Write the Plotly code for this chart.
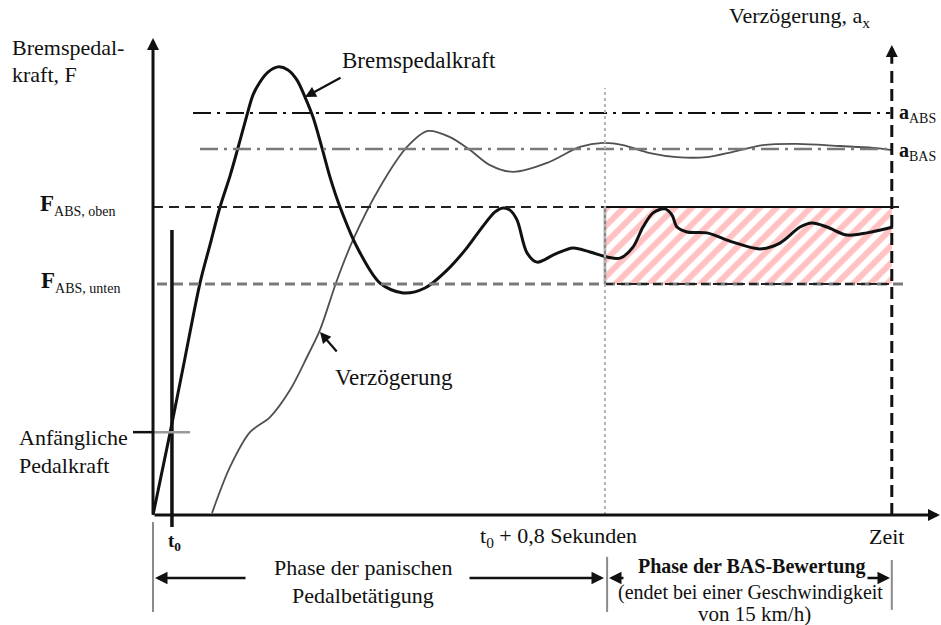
import plotly.graph_objects as go

# Time in seconds from the start of pedal travel; force / deceleration in % of F_ABS,oben
T0 = 0.035            # moment of pedal contact
T_EVAL = T0 + 0.8     # start of BAS evaluation
T_END = 1.365         # vehicle reaches 15 km/h

F_OBEN = 100.0
F_UNTEN = 75.0
A_ABS = 130.5
A_BAS = 118.8
F_INIT = 26.9

# Brake pedal force
force_t = [0.0, 0.0314, 0.0591, 0.0868, 0.1053, 0.1238, 0.1423, 0.1570, 0.1737, 0.1848,
           0.1977, 0.2125, 0.2309, 0.2494, 0.2661, 0.2808, 0.2956, 0.3122, 0.3270, 0.3455,
           0.3769, 0.4194, 0.4619, 0.5025, 0.5432, 0.5765, 0.6042, 0.6319, 0.6467, 0.6596,
           0.6725, 0.6910, 0.7095, 0.7427, 0.7760, 0.8074, 0.8388, 0.8628, 0.8868, 0.9053,
           0.9238, 0.9460, 0.9589, 0.9681, 0.9866, 1.0236, 1.0716, 1.1215, 1.1584, 1.1954,
           1.2176, 1.2453, 1.2822, 1.3192, 1.3672]
force_v = [0.0, 26.6, 51.0, 75.3, 87.7, 100.0, 110.1, 119.2, 129.9, 136.4,
           140.6, 143.8, 145.5, 144.5, 141.2, 135.7, 129.2, 119.2, 109.7, 100.0,
           87.0, 75.3, 72.1, 73.7, 79.5, 86.0, 92.5, 98.4, 99.7, 99.0,
           95.8, 85.1, 82.1, 84.7, 86.7, 85.4, 83.8, 83.4, 87.0, 93.5,
           98.1, 99.4, 97.4, 93.5, 91.9, 91.6, 88.6, 86.4, 88.3, 93.5,
           94.8, 93.5, 90.9, 91.6, 93.5]

# Vehicle deceleration
decel_t = [0.1090, 0.1423, 0.1792, 0.2162, 0.2531, 0.2845, 0.3085, 0.3400, 0.3695, 0.4194,
           0.4693, 0.5081, 0.5487, 0.5857, 0.6226, 0.6651, 0.7280, 0.7889, 0.8314, 0.8684,
           0.9183, 0.9681, 1.0236, 1.0716, 1.1270, 1.1898, 1.2693, 1.3303, 1.3654]
decel_v = [0.6, 15.6, 26.9, 31.8, 40.6, 51.3, 60.1, 76.3, 89.3, 106.5,
           119.5, 124.7, 122.7, 118.5, 113.6, 111.4, 114.3, 119.5, 120.8, 120.1,
           117.5, 116.2, 116.2, 117.9, 120.1, 120.5, 119.8, 119.2, 118.5]

X_RANGE = [-0.2827, 1.4559]
Y_RANGE = [-35.71, 167.21]
Y_TOP = 154.9
X_TIP = 1.454
PHASE_Y = -20.45

SERIF = "Liberation Serif"
INK = "#111111"
GREY = "#7a7a7a"

fig = go.Figure()

# hatched BAS evaluation window
fig.add_trace(go.Scatter(
    x=[T_EVAL, T_END, T_END, T_EVAL, T_EVAL],
    y=[F_UNTEN, F_UNTEN, F_OBEN, F_OBEN, F_UNTEN],
    mode="lines", line=dict(width=0), fill="toself", fillcolor="rgba(0,0,0,0)",
    fillpattern=dict(shape="/", fgcolor="#ff8484", bgcolor="white", size=12, solidity=0.5),
    hoverinfo="skip", showlegend=False))

shapes = []


def hline(y, x0, x1, color, width, dash):
    shapes.append(dict(type="line", xref="x", yref="y", x0=x0, x1=x1, y0=y, y1=y,
                       line=dict(color=color, width=width, dash=dash)))


def vline(x, y0, y1, color, width, dash="solid"):
    shapes.append(dict(type="line", xref="x", yref="y", x0=x, x1=x, y0=y0, y1=y1,
                       line=dict(color=color, width=width, dash=dash)))


# threshold levels
hline(A_ABS, 0.0739, 1.3617, INK, 2, "18px,6px,3px,6px")
hline(A_BAS, 0.0868, 1.3617, GREY, 2.5, "18px,6px,3px,6px")
hline(F_OBEN, 0.0, 1.3894, "#222222", 2, "10px,6px")
hline(F_UNTEN, 0.0074, 1.3894, GREY, 3, "10px,6px")

# window edges
hline(F_OBEN, T_EVAL, T_END, INK, 2, "solid")
hline(F_UNTEN, T_EVAL, T_END, "#222222", 2, "8px,4px")
vline(T_EVAL, F_UNTEN, F_OBEN, "#888888", 2.5)

# markers on the time axis
vline(T_EVAL, 0, 138.6, "#b5b5b5", 2, "dot")
vline(T_END, 0, 146.0, INK, 3, "12px,6px")
vline(T0, -3.9, 92.5, INK, 3.5)

# initial pedal force pointer
hline(F_INIT, -0.037, 0.0, INK, 2.5, "solid")
hline(F_INIT, 0.0, 0.0684, "#999999", 2.5, "solid")

# phase brackets
vline(0.0, -2.3, -31.5, "#8a8a8a", 2)
vline(T_EVAL + 0.004, -13.6, -31.5, "#8a8a8a", 2)
vline(T_END, -14.6, -30.8, "#8a8a8a", 2)

fig.add_trace(go.Scatter(x=decel_t, y=decel_v, mode="lines",
                         line=dict(color="#505050", width=1.8, shape="spline", smoothing=0.9),
                         hoverinfo="skip", showlegend=False))
fig.add_trace(go.Scatter(x=force_t, y=force_v, mode="lines",
                         line=dict(color=INK, width=3, shape="spline", smoothing=0.9),
                         hoverinfo="skip", showlegend=False))

ann = []


def arrow(x_tip, y_tip, x_tail, y_tail, width, size=1.0, head=2):
    ann.append(dict(x=x_tip, y=y_tip, ax=x_tail, ay=y_tail, xref="x", yref="y",
                    axref="x", ayref="y", text="", showarrow=True, arrowhead=head,
                    arrowsize=size, arrowwidth=width, arrowcolor=INK, standoff=0))


def label(x, y, text, size=22, xanchor="left", color=INK):
    ann.append(dict(x=x, y=y, xref="x", yref="y", text=text, showarrow=False,
                    xanchor=xanchor, yanchor="middle",
                    font=dict(family=SERIF, size=size, color=color)))


def sub(text, size):
    return "<sub><span style='font-size:%dpx'>%s</span></sub>" % (size, text)


# axes
arrow(0.0, Y_TOP, 0.0, 0.0, 3, 0.8)
arrow(X_TIP, 0.0, 0.0, 0.0, 3, 0.8)
arrow(T_END, 152.6, T_END, 146.0, 3, 0.8)

# curve pointers
arrow(0.2808, 135.7, 0.3492, 142.2, 2.2, 1.0)
arrow(0.3085, 59.4, 0.3418, 52.6, 2.2, 1.0)

# phase arrows
arrow(0.0037, PHASE_Y, 0.1737, PHASE_Y, 2.5, 1.0)
arrow(0.8333, PHASE_Y, 0.5820, PHASE_Y, 2.5, 1.0)
arrow(0.8425, PHASE_Y, 0.8720, PHASE_Y, 2.5, 1.0)
arrow(1.3617, PHASE_Y, 1.3173, PHASE_Y, 2.5, 1.0)

label(-0.2642, 151.9, "Bremspedal-")
label(-0.2642, 142.9, "kraft, F")
label(0.3455, 147.7, "Bremspedalkraft", size=23)
label(0.3326, 44.5, "Verzögerung", size=23)
label(1.0605, 161.7, "Verzögerung, a<sub>x</sub>", size=22)
label(1.3746, 130.5, "<b>a</b><sub>ABS</sub>", size=20)
label(1.3746, 117.9, "<b>a</b><sub>BAS</sub>", size=20)
label(-0.0647, 100.6, "<b>F</b>" + sub("ABS, oben", 14), size=23, xanchor="right")
label(-0.0573, 75.6, "<b>F</b>" + sub("ABS, unten", 14), size=23, xanchor="right")
label(-0.2513, 25.3, "Anfängliche")
label(-0.2513, 16.2, "Pedalkraft")
label(0.0388, -8.8, "<b>t<sub>0</sub></b>", size=19, xanchor="center")
label(0.750, -7.1, "t<sub>0</sub> + 0,8 Sekunden", size=22, xanchor="center")
label(1.356, -7.1, "Zeit", size=22, xanchor="center")
label(0.388, -16.9, "Phase der panischen", size=22, xanchor="center")
label(0.388, -26.0, "Pedalbetätigung", size=22, xanchor="center")
label(1.1049, -16.6, "<b>Phase der BAS-Bewertung</b>", size=20, xanchor="center")
label(1.103, -25.0, "(endet bei einer Geschwindigkeit", size=20, xanchor="center")
label(1.112, -32.1, "von 15 km/h)", size=21, xanchor="center")

fig.update_layout(
    width=941, height=625, autosize=False,
    margin=dict(l=0, r=0, t=0, b=0),
    paper_bgcolor="white", plot_bgcolor="white",
    xaxis=dict(range=X_RANGE, visible=False, fixedrange=True),
    yaxis=dict(range=Y_RANGE, visible=False, fixedrange=True),
    shapes=shapes, annotations=ann, showlegend=False,
)

fig.write_html("out.html")
